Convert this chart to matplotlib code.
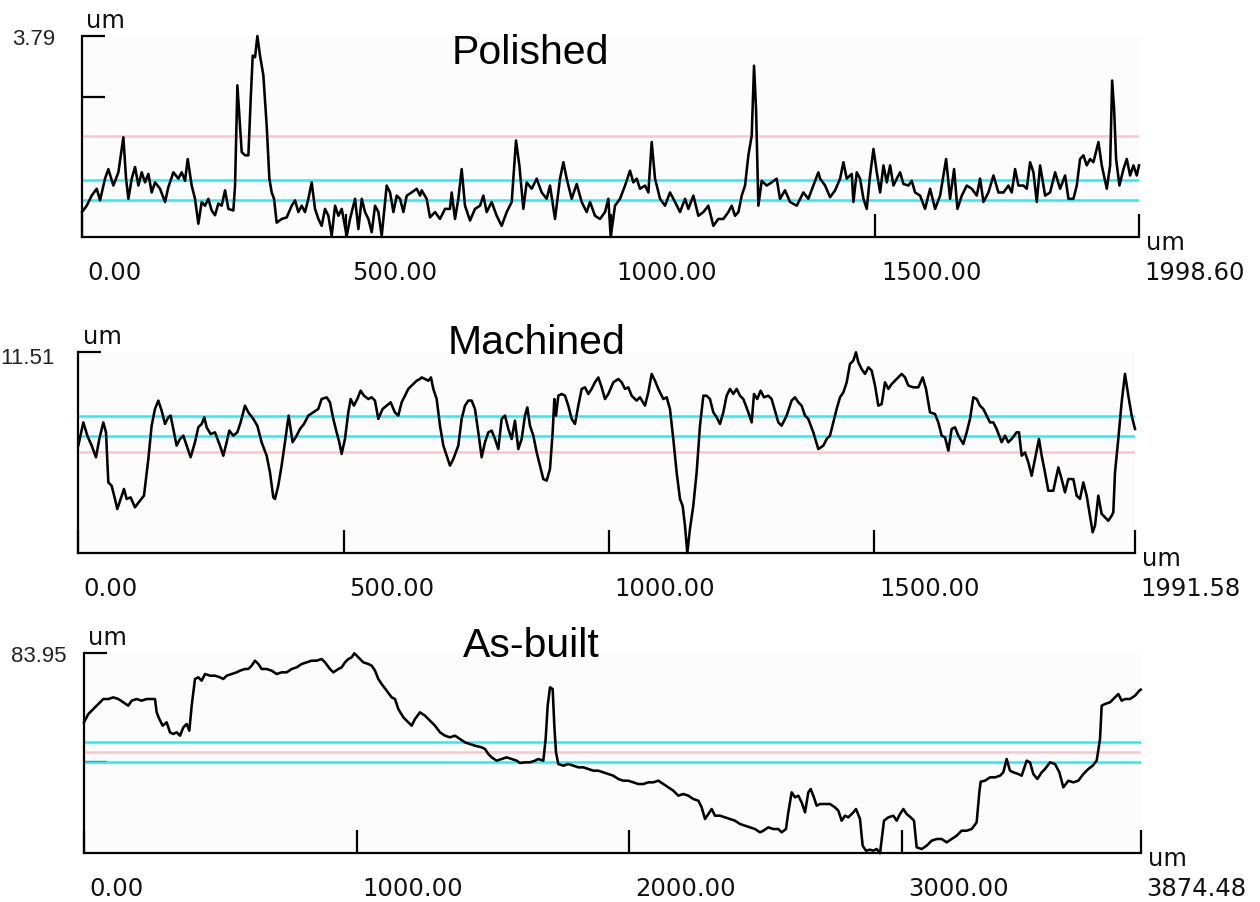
import matplotlib
matplotlib.use("Agg")
import matplotlib.pyplot as plt

# ---------------- data (x in um, height in um) ----------------
POLISHED = [(0, 0.47), (8.9, 0.59), (18.3, 0.78), (27.8, 0.91), (34.1, 0.69), (43.5, 1.10), (49.8, 1.28), (59.3, 0.97),
    (68.8, 1.22), (78.2, 1.88), (83.3, 1.10), (87.7, 0.72), (94.0, 1.10), (100.3, 1.32), (106.6, 0.97), (112.9, 1.22),
    (119.2, 1.03), (125.5, 1.19), (131.8, 0.84), (138.1, 1.03), (147.5, 0.91), (157.0, 0.66), (163.3, 0.94), (172.8, 1.22),
    (182.2, 1.10), (188.5, 1.22), (194.8, 1.06), (199.9, 1.47), (207.4, 0.97), (213.7, 0.72), (220.0, 0.25), (226.3, 0.66),
    (232.6, 0.59), (238.9, 0.72), (245.2, 0.50), (251.5, 0.41), (257.8, 0.63), (264.1, 0.59), (270.5, 0.88), (276.8, 0.53),
    (286.2, 0.50), (289.4, 0.97), (293.8, 2.86), (297.6, 2.29), (302.0, 1.60), (308.3, 1.54), (314.6, 1.54), (319.0, 2.60),
    (322.8, 3.42), (327.2, 3.39), (331.6, 3.79), (336.6, 3.42), (342.9, 3.05), (349.2, 2.10), (354.3, 1.10), (358.7, 0.84),
    (363.1, 0.72), (368.1, 0.27), (377.6, 0.34), (387.1, 0.37), (396.5, 0.59), (402.8, 0.69), (409.1, 0.47), (415.4, 0.59),
    (421.7, 0.47), (428.0, 0.72), (434.3, 1.03), (440.6, 0.53), (447.0, 0.34), (453.2, 0.21), (459.5, 0.53), (465.8, 0.40),
    (472.1, 0.02), (478.5, 0.59), (484.8, 0.40), (491.1, 0.53), (500.5, 0.02), (506.8, 0.34), (516.3, 0.72), (522.6, 0.15),
    (528.9, 0.72), (535.2, 0.47), (541.5, 0.34), (547.8, 0.09), (554.1, 0.59), (560.4, 0.47), (566.7, 0.02), (576.1, 0.97),
    (582.5, 0.84), (588.8, 0.47), (595.1, 0.78), (601.4, 0.72), (607.7, 0.47), (614.0, 0.78), (623.4, 0.84), (632.9, 0.91),
    (639.2, 0.78), (642.3, 0.88), (651.7, 0.72), (658.0, 0.37), (667.5, 0.47), (676.9, 0.34), (686.4, 0.53), (695.8, 0.53),
    (699.0, 0.84), (705.3, 0.34), (711.6, 0.72), (717.9, 1.28), (724.2, 0.59), (733.7, 0.31), (743.1, 0.53), (752.6, 0.59),
    (758.9, 0.78), (765.2, 0.47), (774.6, 0.66), (784.1, 0.40), (793.5, 0.21), (803.0, 0.47), (812.5, 0.66), (820.6, 1.82),
    (827.0, 1.35), (834.5, 0.53), (840.8, 1.03), (850.3, 0.91), (859.7, 1.10), (869.2, 0.84), (878.6, 0.72), (884.9, 0.97),
    (894.4, 0.34), (903.8, 1.10), (910.2, 1.41), (916.5, 1.10), (925.9, 0.72), (935.4, 1.00), (944.8, 0.66), (954.3, 0.47),
    (960.6, 0.66), (970.0, 0.40), (979.5, 0.34), (988.9, 0.47), (995.2, 0.72), (999.7, 0.0), (1007.8, 0.59), (1017.3, 0.72),
    (1026.8, 0.97), (1036.2, 1.25), (1042.5, 1.03), (1048.8, 1.10), (1055.1, 0.91), (1064.6, 0.97), (1070.9, 0.84),
    (1077.2, 1.79), (1083.5, 1.10), (1093.0, 0.72), (1102.4, 0.59), (1111.8, 0.84), (1121.3, 0.66), (1130.8, 0.47),
    (1140.2, 0.72), (1146.5, 0.53), (1156.0, 0.78), (1165.4, 0.40), (1174.9, 0.47), (1184.3, 0.59), (1193.8, 0.21),
    (1203.2, 0.34), (1212.7, 0.34), (1222.1, 0.47), (1228.5, 0.59), (1234.8, 0.40), (1241.1, 0.47), (1247.4, 0.78),
    (1253.7, 0.97), (1260.0, 1.54), (1266.3, 1.91), (1270.7, 3.23), (1274.5, 2.42), (1278.9, 0.59), (1285.2, 1.06),
    (1294.6, 0.97), (1304.1, 1.03), (1313.5, 1.10), (1319.8, 0.72), (1329.3, 0.88), (1338.8, 0.66), (1351.4, 0.59),
    (1364.0, 0.84), (1373.4, 0.72), (1382.9, 0.97), (1392.3, 1.22), (1395.6, 1.10), (1405.1, 0.97), (1414.5, 0.75),
    (1424.0, 0.88), (1433.4, 1.10), (1439.7, 1.41), (1446.0, 1.10), (1455.5, 1.19), (1458.6, 0.66), (1464.9, 1.22),
    (1471.2, 1.10), (1477.6, 0.72), (1483.8, 0.53), (1490.1, 1.16), (1496.5, 1.66), (1502.8, 1.22), (1509.1, 0.84),
    (1515.4, 1.35), (1521.7, 1.03), (1528.0, 1.35), (1534.3, 0.97), (1540.6, 1.10), (1546.9, 1.22), (1553.2, 1.00),
    (1562.6, 0.97), (1568.9, 1.06), (1575.2, 0.84), (1584.7, 0.78), (1594.1, 0.53), (1603.6, 0.91), (1613.1, 0.53),
    (1622.5, 0.78), (1633.9, 1.47), (1641.4, 0.72), (1649.0, 1.28), (1655.3, 0.53), (1663.5, 0.78), (1672.9, 0.97),
    (1682.4, 0.91), (1691.8, 0.78), (1698.1, 1.10), (1704.5, 0.66), (1713.9, 0.84), (1723.4, 1.16), (1732.8, 0.84),
    (1742.3, 0.84), (1751.7, 0.97), (1758.0, 0.84), (1764.3, 1.28), (1770.6, 0.97), (1780.1, 0.97), (1786.4, 0.91),
    (1792.7, 1.41), (1799.0, 1.22), (1805.3, 0.66), (1811.6, 1.35), (1821.1, 0.78), (1830.5, 0.84), (1840.0, 1.22),
    (1849.4, 0.91), (1858.9, 1.16), (1865.2, 0.72), (1874.6, 0.72), (1880.9, 0.97), (1887.2, 1.47), (1893.5, 1.54),
    (1899.8, 1.35), (1906.1, 1.47), (1912.4, 1.41), (1921.9, 1.79), (1928.2, 1.35), (1937.7, 0.91), (1944.0, 1.35),
    (1947.8, 2.95), (1951.5, 2.42), (1955.3, 1.47), (1961.6, 0.97), (1969.2, 1.28), (1975.5, 1.47), (1981.8, 1.16),
    (1988.1, 1.35), (1994.4, 1.16), (1998.6, 1.35)]

MACHINED = [(0, 6.16), (9.5, 7.49), (17.0, 6.73), (25.2, 6.16), (33.3, 5.49), (39.6, 6.54), (47.1, 7.49), (52.2, 6.92),
    (56.6, 4.05), (62.8, 3.86), (69.1, 3.10), (73.5, 2.52), (79.8, 3.10), (86.1, 3.67), (91.1, 3.10), (98.6, 3.19),
    (106.8, 2.62), (116.2, 3.00), (123.8, 3.29), (132.0, 5.39), (138.2, 7.30), (144.5, 8.26), (150.8, 8.74), (157.1, 8.16),
    (163.4, 7.40), (169.6, 7.78), (174.0, 7.88), (179.1, 7.11), (185.3, 6.16), (191.6, 6.54), (197.9, 6.73), (204.2, 6.16),
    (211.7, 5.49), (219.9, 6.35), (226.2, 7.21), (232.5, 7.40), (237.5, 7.78), (241.9, 7.21), (249.4, 6.82), (257.6, 6.92),
    (267.0, 6.16), (273.3, 5.58), (279.6, 6.35), (284.6, 7.02), (292.1, 6.73), (299.7, 6.92), (305.9, 7.49), (314.1, 8.45),
    (320.4, 8.07), (329.8, 7.69), (337.4, 7.30), (345.5, 6.35), (355.0, 5.58), (361.2, 4.63), (367.5, 3.19), (370.7, 3.10),
    (376.9, 3.86), (383.2, 5.01), (389.5, 6.35), (396.4, 7.88), (403.9, 6.35), (411.5, 6.73), (417.8, 7.11), (425.3, 7.40),
    (433.5, 7.88), (442.9, 8.07), (452.3, 8.26), (458.6, 8.83), (468.0, 8.93), (474.3, 8.64), (480.6, 7.69), (486.9, 6.92),
    (491.9, 6.35), (496.3, 5.68), (502.6, 6.54), (508.9, 8.07), (513.3, 8.83), (519.5, 8.45), (525.8, 8.83), (532.1, 9.31),
    (538.4, 9.02), (546.6, 8.83), (552.8, 8.93), (559.1, 8.74), (565.4, 7.69), (573.6, 8.26), (581.1, 8.45), (588.7, 8.64),
    (596.6, 8.07), (603.1, 7.88), (609.4, 8.64), (615.7, 9.02), (621.9, 9.41), (631.4, 9.69), (637.7, 9.88), (643.9, 9.98),
    (647.1, 10.07), (653.4, 9.98), (659.7, 9.88), (664.7, 10.07), (669.1, 9.41), (675.4, 8.83), (681.7, 7.30), (688.0, 6.16),
    (694.2, 5.58), (700.5, 5.01), (706.8, 5.39), (716.2, 6.16), (722.5, 7.69), (728.8, 8.45), (735.1, 8.74), (741.4, 8.74),
    (747.6, 8.26), (753.9, 6.92), (760.2, 5.49), (766.5, 6.35), (772.8, 6.92), (779.1, 7.02), (785.3, 6.54), (791.6, 5.96),
    (797.9, 7.69), (804.2, 7.88), (810.5, 7.11), (816.7, 6.54), (823.0, 7.59), (829.3, 5.96), (835.6, 6.54), (841.9, 7.88),
    (846.3, 8.35), (851.3, 7.30), (857.6, 6.73), (863.9, 5.77), (870.1, 5.01), (876.4, 4.24), (882.7, 4.15), (889.0, 4.82),
    (894.0, 6.92), (897.2, 8.83), (900.3, 7.88), (904.7, 9.02), (911.0, 9.12), (917.3, 9.02), (923.5, 8.45), (929.8, 7.69),
    (936.1, 7.40), (942.4, 8.45), (948.7, 9.41), (955.0, 9.50), (961.2, 9.12), (967.5, 9.41), (973.8, 9.79), (980.1, 10.07),
    (986.4, 9.50), (992.6, 8.83), (998.9, 9.12), (1008.4, 9.79), (1017.8, 9.98), (1024.1, 9.79), (1030.3, 9.41),
    (1036.6, 9.50), (1042.9, 9.02), (1052.3, 8.74), (1058.6, 8.93), (1068.0, 8.45), (1074.3, 9.21), (1080.6, 10.27),
    (1086.9, 9.88), (1093.2, 9.41), (1102.6, 8.83), (1108.9, 8.93), (1115.1, 8.26), (1121.4, 6.54), (1127.7, 4.63),
    (1134.0, 3.10), (1139.0, 2.71), (1143.4, 1.57), (1147.8, 0.0), (1152.8, 1.38), (1159.1, 2.71), (1165.4, 4.63),
    (1171.7, 7.30), (1178.0, 9.02), (1184.2, 9.02), (1190.5, 8.83), (1196.8, 8.07), (1203.1, 7.78), (1209.4, 7.40),
    (1215.7, 8.07), (1221.9, 9.02), (1228.2, 9.41), (1234.5, 9.12), (1240.8, 9.41), (1247.1, 9.02), (1253.4, 8.83),
    (1262.8, 8.07), (1269.1, 7.49), (1273.5, 9.12), (1279.7, 8.83), (1286.0, 9.31), (1292.3, 8.93), (1300.5, 9.02),
    (1306.7, 8.83), (1313.0, 8.16), (1319.3, 7.49), (1325.6, 7.30), (1335.0, 7.88), (1344.4, 8.74), (1350.7, 8.93),
    (1357.0, 8.64), (1363.3, 8.45), (1369.6, 7.88), (1375.8, 7.69), (1385.3, 6.92), (1394.7, 5.96), (1404.2, 6.16),
    (1410.5, 6.54), (1416.7, 6.73), (1423.0, 7.49), (1429.3, 8.26), (1435.6, 8.93), (1441.9, 9.21), (1448.2, 9.79),
    (1454.4, 10.84), (1460.7, 11.03), (1465.7, 11.51), (1470.1, 10.94), (1476.4, 10.55), (1482.7, 10.27), (1489.0, 10.65),
    (1495.3, 10.46), (1501.6, 9.60), (1507.8, 8.45), (1514.1, 8.54), (1520.4, 9.79), (1526.7, 9.41), (1533.0, 9.69),
    (1542.4, 9.98), (1551.8, 10.27), (1558.1, 10.07), (1564.4, 9.60), (1573.8, 9.50), (1583.2, 9.50), (1591.4, 10.07),
    (1597.7, 9.41), (1605.2, 8.07), (1614.6, 7.97), (1620.9, 7.49), (1627.2, 6.73), (1633.5, 6.63), (1639.8, 5.87),
    (1646.0, 7.11), (1652.3, 7.21), (1658.6, 6.73), (1668.0, 6.25), (1674.3, 6.92), (1680.6, 7.69), (1686.9, 8.93),
    (1693.2, 8.83), (1699.4, 8.45), (1705.7, 8.26), (1712.0, 7.88), (1718.3, 7.49), (1724.6, 7.49), (1730.8, 7.11),
    (1740.3, 6.35), (1746.5, 6.73), (1752.8, 6.35), (1759.1, 6.54), (1768.5, 6.92), (1772.9, 6.92), (1778.0, 5.58),
    (1784.2, 5.77), (1790.5, 5.20), (1796.8, 4.43), (1803.1, 5.39), (1810.6, 6.54), (1815.7, 5.58), (1821.9, 4.63),
    (1828.2, 3.57), (1837.6, 3.57), (1847.1, 4.91), (1853.3, 4.24), (1859.6, 3.48), (1865.9, 4.24), (1875.3, 4.24),
    (1881.6, 3.29), (1887.9, 3.10), (1894.2, 4.05), (1900.5, 3.29), (1906.7, 2.14), (1911.8, 1.19), (1916.2, 1.57),
    (1922.4, 3.29), (1928.7, 2.24), (1935.0, 2.05), (1941.3, 1.85), (1947.6, 2.14), (1950.7, 2.33), (1953.9, 4.63),
    (1960.1, 6.54), (1966.4, 8.64), (1972.7, 10.27), (1979.0, 9.02), (1985.3, 7.88), (1991.58, 7.11)]

ASBUILT = [(0, 54.97), (15.9, 58.47), (34.2, 60.57), (46.4, 61.97), (58.7, 63.37), (70.9, 64.76), (89.2, 64.76),
    (107.5, 65.46), (125.9, 64.76), (144.2, 63.37), (162.5, 61.97), (174.8, 64.06), (193.1, 64.76), (211.4, 64.06),
    (229.8, 64.76), (248.1, 64.76), (260.3, 64.76), (266.4, 59.17), (276.2, 56.37), (288.4, 53.57), (303.1, 54.97),
    (315.3, 50.77), (327.5, 50.07), (339.8, 50.77), (352.0, 49.37), (364.2, 52.87), (376.4, 54.27), (386.2, 51.47),
    (394.8, 61.97), (407.0, 73.16), (419.2, 73.86), (431.4, 72.46), (443.7, 75.26), (462.0, 74.56), (480.3, 74.56),
    (498.7, 73.86), (510.9, 73.16), (523.1, 74.56), (541.4, 75.26), (559.8, 75.96), (572.0, 76.66), (590.3, 77.36),
    (602.5, 77.36), (614.8, 78.76), (627.0, 80.86), (639.2, 79.46), (651.4, 77.36), (669.8, 77.36), (688.1, 76.66),
    (706.4, 75.26), (724.8, 75.96), (743.1, 75.96), (761.4, 77.36), (779.8, 78.06), (798.1, 79.46), (816.4, 80.16),
    (834.8, 80.86), (853.1, 80.86), (871.4, 81.55), (883.6, 80.16), (902.0, 77.36), (914.2, 75.96), (932.5, 77.36),
    (944.8, 78.06), (957.0, 80.16), (969.2, 81.55), (981.4, 82.25), (991.2, 83.95), (1005.9, 82.25), (1024.2, 80.16),
    (1042.5, 79.46), (1054.8, 78.76), (1067.0, 76.66), (1079.2, 73.16), (1091.4, 71.06), (1109.8, 68.26), (1128.1, 65.46),
    (1140.3, 64.76), (1152.5, 60.57), (1170.9, 57.07), (1189.2, 54.97), (1201.4, 53.57), (1213.6, 56.37), (1232.0, 59.17),
    (1250.3, 57.77), (1268.6, 55.67), (1286.9, 53.57), (1305.3, 50.77), (1323.6, 49.37), (1341.9, 48.67), (1360.3, 49.37),
    (1378.6, 47.97), (1396.9, 46.57), (1415.3, 45.87), (1433.6, 45.17), (1458.0, 44.47), (1470.3, 43.78), (1482.5, 41.68),
    (1494.7, 40.28), (1513.0, 38.88), (1531.4, 39.58), (1549.7, 40.28), (1568.0, 39.58), (1586.4, 38.88), (1598.6, 37.90),
    (1616.9, 38.18), (1635.3, 38.18), (1653.6, 38.88), (1665.8, 39.58), (1684.1, 38.88), (1692.7, 47.97), (1700.1, 61.97),
    (1708.6, 69.66), (1718.4, 68.96), (1724.5, 53.57), (1730.6, 42.38), (1739.1, 37.48), (1757.5, 36.78), (1775.8, 37.48),
    (1794.1, 36.78), (1812.5, 36.08), (1830.8, 36.08), (1849.1, 35.38), (1867.5, 34.68), (1885.8, 34.68), (1904.1, 33.98),
    (1922.5, 33.28), (1940.8, 32.58), (1959.1, 31.18), (1977.5, 30.48), (1995.8, 30.48), (2014.1, 29.78), (2032.5, 29.08),
    (2050.8, 29.08), (2069.1, 29.78), (2087.5, 29.78), (2105.8, 30.48), (2124.1, 29.08), (2142.5, 27.69), (2160.8, 26.29),
    (2179.1, 24.19), (2197.5, 24.89), (2215.8, 24.19), (2234.1, 22.79), (2252.5, 22.09), (2264.7, 19.29), (2277.0, 14.39),
    (2289.2, 16.49), (2301.4, 18.59), (2313.6, 15.79), (2332.0, 15.79), (2350.3, 15.09), (2368.6, 14.39), (2387.0, 13.69),
    (2405.3, 12.29), (2423.6, 11.59), (2442.0, 10.89), (2460.3, 10.19), (2478.6, 8.80), (2490.8, 9.49), (2509.1, 10.89),
    (2527.5, 10.19), (2545.8, 10.19), (2558.0, 8.80), (2573.9, 10.19), (2582.4, 17.19), (2594.7, 25.59), (2606.9, 23.49),
    (2619.1, 24.19), (2631.3, 21.39), (2643.6, 17.19), (2655.8, 25.59), (2664.4, 26.99), (2674.1, 24.19), (2686.4, 19.99),
    (2698.6, 20.69), (2716.9, 20.69), (2735.3, 20.69), (2753.6, 19.29), (2765.8, 17.89), (2778.0, 13.69), (2790.3, 15.79),
    (2802.5, 15.09), (2820.8, 17.19), (2830.6, 18.59), (2845.3, 14.39), (2855.0, 3.20), (2867.3, 1.10), (2881.9, 1.52),
    (2894.2, 1.10), (2906.4, 1.80), (2918.6, 0.0), (2933.3, 13.69), (2949.2, 15.09), (2967.5, 15.79), (2979.7, 13.69),
    (2991.9, 16.49), (3004.2, 18.59), (3016.4, 16.49), (3031.0, 15.09), (3043.3, 13.69), (3053.0, 2.50), (3071.4, 1.80),
    (3089.7, 3.20), (3108.0, 5.30), (3126.4, 6.00), (3144.7, 6.00), (3163.0, 4.60), (3181.4, 6.00), (3199.7, 7.40),
    (3218.0, 9.49), (3236.4, 9.49), (3254.7, 10.19), (3273.0, 12.99), (3282.8, 25.59), (3287.7, 30.06), (3303.6, 30.48),
    (3321.9, 31.88), (3340.3, 31.88), (3358.6, 32.58), (3370.8, 33.98), (3383.0, 39.58), (3395.3, 34.68), (3407.5, 33.98),
    (3425.8, 33.28), (3438.0, 32.58), (3456.4, 38.88), (3468.6, 38.18), (3480.8, 33.28), (3495.5, 31.18), (3511.4, 33.98),
    (3523.6, 35.38), (3541.9, 38.18), (3560.3, 37.48), (3576.2, 33.98), (3590.8, 27.69), (3609.2, 30.48), (3627.5, 29.78),
    (3645.8, 30.48), (3664.2, 33.28), (3682.5, 35.38), (3698.4, 36.78), (3713.0, 38.88), (3725.3, 47.97), (3731.4, 61.97),
    (3743.6, 62.67), (3761.9, 63.37), (3780.3, 65.46), (3792.5, 66.86), (3804.7, 64.06), (3817.0, 64.76), (3835.3, 64.76),
    (3853.6, 66.16), (3869.5, 68.26), (3874.48, 68.68)]

TITLES = ["Polished", "Machined", "As-built"]
LENGTHS = [1998.60, 1991.58, 3874.48]
TOPS = [3.79, 11.51, 83.95]
XTICKS = [[0, 500, 1000, 1500], [0, 500, 1000, 1500], [0, 1000, 2000, 3000]]
EXTRA_YTICKS = [[2.64], [], [38.18]]
CYAN_LINES = [[1.07, 0.70], [7.84, 6.69], [46.57, 38.18]]
PINK_LINES = [[1.90], [5.77], [42.38]]

# ---------------- layout (pixels) ----------------
W, H = 1260, 903
AX_BOX = [(82, 37, 1139, 238), (78.3, 353.3, 1135, 554), (84, 654.3, 1140.7, 854.3)]
TITLE_POS = [(530, 64), (536.5, 354), (531, 657)]
TOPLABEL_OFF = [(-27, -8), (-24, -11), (-17, -7.5)]   # pixels from top-left corner

PT = 72.0 / 100.0   # points per pixel

fig = plt.figure(figsize=(W / 100, H / 100), dpi=100)
fig.patch.set_facecolor("white")

datasets = [POLISHED, MACHINED, ASBUILT]
for i in range(3):
    x0, y0, x1, y1 = AX_BOX[i]
    ax = fig.add_axes([x0 / W, 1 - y1 / H, (x1 - x0) / W, (y1 - y0) / H])
    ax.set_facecolor("#fcfcfc")
    L, top = LENGTHS[i], TOPS[i]
    xs = [p[0] for p in datasets[i]]
    ys = [p[1] for p in datasets[i]]
    for v in CYAN_LINES[i]:
        ax.axhline(v, color="#1ef2f2", lw=1.8, zorder=2)
    for v in PINK_LINES[i]:
        ax.axhline(v, color="#ffc4cc", lw=1.8, zorder=2)
    ax.plot(xs, ys, color="black", lw=1.85, zorder=3, clip_on=False,
            solid_joinstyle="round")
    ax.set_xlim(0, L)
    ax.set_ylim(0, top)
    for s in ["top", "right"]:
        ax.spines[s].set_visible(False)
    for s in ["left", "bottom"]:
        ax.spines[s].set_linewidth(1.6)
        ax.spines[s].set_color("black")
    ax.set_xticks(XTICKS[i] + [L])
    ax.set_yticks([top] + EXTRA_YTICKS[i])
    ax.tick_params(axis="both", direction="in", length=16.5, width=1.6, color="black",
                   labelbottom=False, labelleft=False)

    # x tick labels
    for t in XTICKS[i] + [L]:
        ax.annotate(f"{t:.2f}", xy=(t, 0), xycoords=("data", "axes fraction"),
                    xytext=(4, -42 * PT), textcoords="offset points",
                    ha="left", va="baseline", fontsize=17.5, family="DejaVu Sans", color="#111111")
    # unit labels
    ax.annotate("um", xy=(L, 0), xycoords=("data", "axes fraction"),
                xytext=(7 * PT, -12 * PT), textcoords="offset points",
                ha="left", va="baseline", fontsize=17.5, family="DejaVu Sans", color="#111111")
    ax.annotate("um", xy=(0, 1), xycoords="axes fraction",
                xytext=(4.5 * PT, 9 * PT), textcoords="offset points",
                ha="left", va="baseline", fontsize=17.5, family="DejaVu Sans", color="#111111")
    # max value label
    dx, dy = TOPLABEL_OFF[i]
    ax.annotate(f"{top:.2f}", xy=(0, 1), xycoords="axes fraction",
                xytext=(dx * PT, dy * PT), textcoords="offset points",
                ha="right", va="baseline", fontsize=16, family="Liberation Sans", color="#222222")
    # title
    tx, ty = TITLE_POS[i]
    fig.text(tx / W, 1 - ty / H, TITLES[i], ha="center", va="baseline",
             fontsize=29.5, family="Liberation Sans", color="black")

fig.savefig("out.png", dpi=100)
